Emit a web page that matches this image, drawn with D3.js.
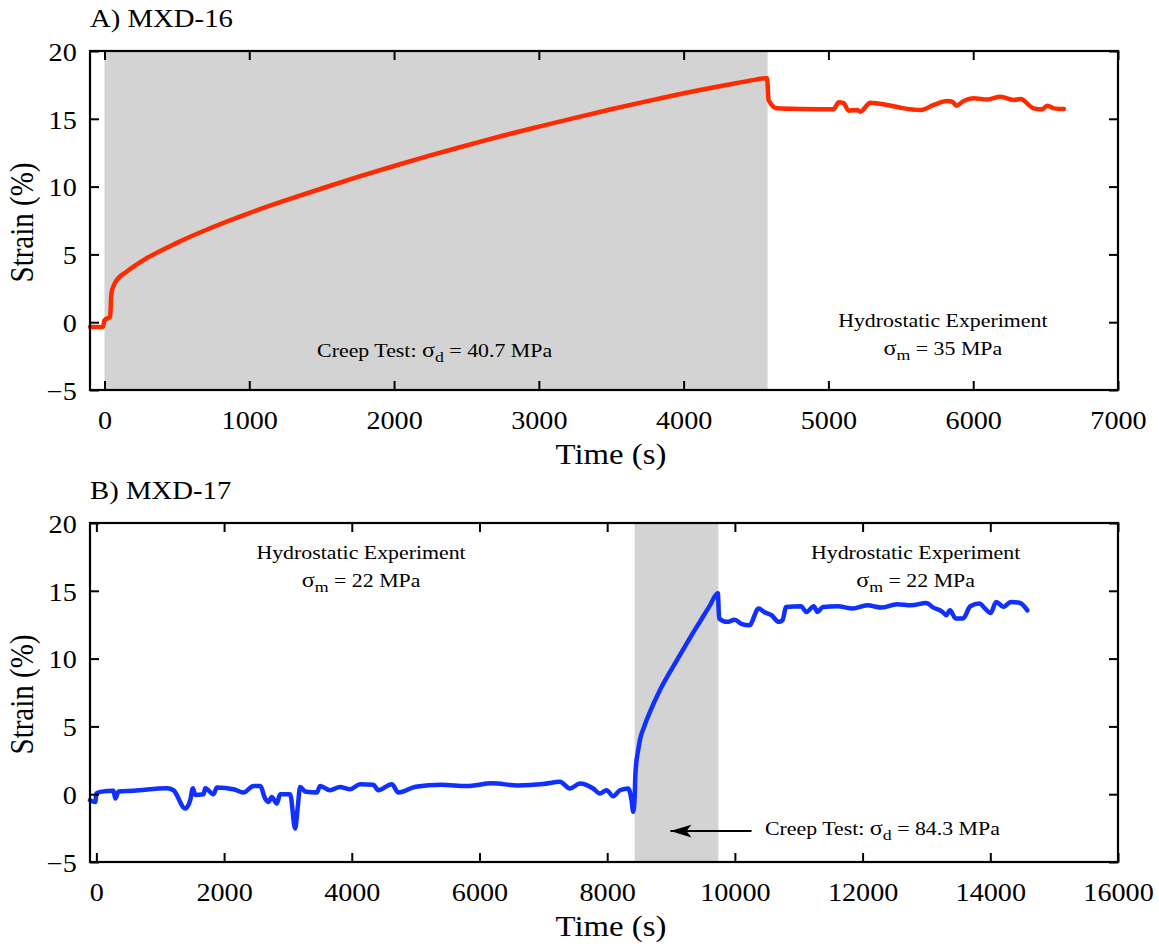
<!DOCTYPE html>
<meta charset="utf-8">
<script src="https://d3js.org/d3.v7.min.js"></script>
<style>
    body { margin: 0; background: #fff; }
</style>
<div id="chart"></div>
<script>

    // ---- data ----
    // A) MXD-16 : creep test then hydrostatic
    var timeA = [-100, -10, 0, 39, 48, 60, 84, 150, 250, 500, 750, 1000, 1250, 1500, 1750, 2000, 2250, 2500, 2750,
        3000, 3250, 3500, 3750, 4000, 4250, 4500, 4564, 4576, 4587, 4645, 4806, 5036, 5071, 5105, 5140, 5198, 5220,
        5290, 5405, 5497, 5635, 5727, 5820, 5855, 5884, 5934, 6003, 6096, 6188, 6280, 6326, 6418, 6476, 6511, 6557, 6626];
    var strainA = [-0.35, -0.35, 0.15, 0.4, 2.13, 2.6, 3.1, 3.7, 4.45, 5.85, 7.02, 8.05, 8.98, 9.86, 10.71, 11.52, 12.3, 13.03, 13.75,
        14.42, 15.07, 15.7, 16.3, 16.88, 17.4, 17.89, 17.99, 17.99, 16.39, 15.77, 15.72, 15.70, 16.22, 16.15, 15.6, 15.65, 15.52,
        16.19, 16.02, 15.82, 15.65, 16.02, 16.31, 16.26, 15.97, 16.31, 16.51, 16.43, 16.63, 16.39, 16.46, 15.77, 15.70, 15.97, 15.77, 15.72];

    // B) MXD-17 : hydrostatic, creep test, hydrostatic
    var timeB = [-100, -17, 0, 61, 269, 296, 348, 582, 1105, 1208, 1391, 1470, 1511, 1548, 1678, 1704, 1834, 1887, 2147,
        2304, 2460, 2565, 2643, 2695, 2747, 2826, 2878, 3034, 3113, 3154, 3191, 3269, 3452, 3504, 3660, 3817, 3973, 4130,
        4338, 4416, 4626, 4730, 5000, 5400, 5800, 6200, 6600, 7000, 7260, 7416, 7573, 7781, 7886, 7990, 8094, 8199, 8329, 8381, 8407,
        8430, 8440, 8455, 8480, 8512, 8580, 8668, 8825, 9000, 9150, 9300, 9450, 9600, 9733, 9753, 9880, 9995, 10111, 10226,
        10371, 10458, 10573, 10687, 10745, 10803, 11035, 11121, 11235, 11293, 11380, 11610, 11842, 12072, 12304, 12534,
        12763, 12995, 13110, 13253, 13310, 13368, 13457, 13572, 13687, 13831, 13917, 14005, 14092, 14207, 14322, 14466, 14580];
    var strainB = [-0.44, -0.57, 0.05, 0.17, 0.25, -0.32, 0.2, 0.25, 0.44, 0.29, -1.06, -0.44, 0.44, -0.05, 0.0, 0.44, 0.0, 0.49, 0.37,
        0.12, 0.61, 0.61, -0.32, -0.57, -0.2, -0.69, 0.0, 0.0, -2.53, -0.93, 0.54, 0.2, 0.12, 0.61, 0.29, 0.54, 0.37, 0.74,
        0.69, 0.29, 0.74, 0.12, 0.55, 0.7, 0.6, 0.8, 0.65, 0.75, 0.91, 0.42, 0.79, 0.42, 0.05, 0.29, -0.15, 0.29, 0.42, -0.44, -1.3,
        -0.2, 1.3, 2.3, 3.1, 3.98, 5.0, 6.05, 7.67, 9.15, 10.35, 11.55, 12.7, 13.85, 14.82, 12.96, 12.71, 12.86, 12.54, 12.46,
        13.69, 13.44, 13.2, 12.71, 12.83, 13.81, 13.86, 13.44, 13.86, 13.44, 13.81, 13.86, 13.69, 13.93, 13.76, 14.01,
        13.93, 14.1, 13.76, 13.44, 13.2, 13.56, 12.96, 12.96, 13.86, 14.06, 13.69, 13.37, 14.18, 13.81, 14.18, 14.1, 13.56];

    // shaded creep-test windows (s)
    var creepA = [0, 4580];
    var creepB = [8430, 9740];

    // ticks
    var xTicksA = [0, 1000, 2000, 3000, 4000, 5000, 6000, 7000];
    var xTicksB = [0, 2000, 4000, 6000, 8000, 10000, 12000, 14000, 16000];
    var yTicks = [-5, 0, 5, 10, 15, 20];

    var FONT = "'Times New Roman', 'Liberation Serif', Tinos, 'DejaVu Serif', serif";
    var SX = 1.15; // the type in the original is a little wide

    var W = 1159, H = 947;
    var svg = d3.select("#chart").append("svg")
        .attr("width", W)
        .attr("height", H)
        .style("font-family", FONT);

    // arrowhead, tip at the start of the line
    svg.append("defs").append("marker")
        .attr("id", "arrowhead")
        .attr("viewBox", "0 -7 22 14")
        .attr("refX", 0)
        .attr("refY", 0)
        .attr("markerWidth", 22)
        .attr("markerHeight", 14)
        .attr("markerUnits", "userSpaceOnUse")
        .attr("orient", "auto")
        .append("path")
        .attr("d", "M0,0 L21,-6.3 L16,0 L21,6.3 Z")
        .attr("fill", "#000");

    // a text placed at (px,py), widened by SX
    function label(g, px, py, size, anchor, rotate) {
        return g.append("text")
            .attr("transform", "translate(" + px + "," + py + ")" +
                (rotate ? " rotate(-90) scale(1," + SX + ")" : " scale(" + SX + ",1)"))
            .attr("text-anchor", anchor)
            .attr("font-family", FONT)
            .attr("font-size", size + "px");
    }

    // draws one panel and returns its scales
    function panel(opt) {
        var x = d3.scaleLinear().domain(opt.xDomain).range([opt.left, opt.right]);
        var y = d3.scaleLinear().domain([-5, 20]).range([opt.bottom, opt.top]);
        var g = svg.append("g");

        // creep test shading
        g.append("rect")
            .attr("x", x(opt.creep[0]))
            .attr("y", y(20))
            .attr("width", x(opt.creep[1]) - x(opt.creep[0]))
            .attr("height", y(-5) - y(20))
            .attr("fill", "#d3d3d3");

        // strain line
        var line = d3.line()
            .curve(d3.curveMonotoneX)
            .x(function (d) { return x(d[0]); })
            .y(function (d) { return y(d[1]); });
        g.append("path")
            .datum(d3.zip(opt.time, opt.strain))
            .attr("d", line)
            .attr("fill", "none")
            .attr("stroke", opt.color)
            .attr("stroke-width", 4.5)
            .attr("stroke-linejoin", "round")
            .attr("stroke-linecap", "round");

        // axes, ticks pointing inward
        var fmt = d3.format("d");
        g.append("g")
            .attr("transform", "translate(0," + opt.bottom + ")")
            .call(d3.axisBottom(x).tickValues(opt.xTicks).tickFormat(fmt).tickSize(-9).tickPadding(21.5).tickSizeOuter(0));
        g.append("g")
            .attr("transform", "translate(0," + opt.top + ")")
            .call(d3.axisTop(x).tickValues(opt.xTicks).tickSize(-9).tickFormat("").tickSizeOuter(0));
        var leftAx = g.append("g")
            .attr("transform", "translate(" + opt.left + ",0)")
            .call(d3.axisLeft(y).tickValues(yTicks).tickFormat(fmt).tickSize(-9).tickPadding(11.5).tickSizeOuter(0));
        g.append("g")
            .attr("transform", "translate(" + opt.right + ",0)")
            .call(d3.axisRight(y).tickValues(yTicks).tickSize(-9).tickFormat("").tickSizeOuter(0));

        g.selectAll(".domain").remove();
        g.selectAll("g").attr("font-family", FONT);
        g.selectAll(".tick line").attr("stroke", "#000").attr("stroke-width", 2);
        g.selectAll(".tick text")
            .attr("font-family", FONT)
            .attr("font-size", "24.5px")
            .attr("transform", "scale(" + SX + ",1)");
        leftAx.selectAll(".tick text").attr("dy", "0.38em");

        // frame
        g.append("rect")
            .attr("x", opt.left)
            .attr("y", opt.top)
            .attr("width", opt.right - opt.left)
            .attr("height", opt.bottom - opt.top)
            .attr("fill", "none")
            .attr("stroke", "#000")
            .attr("stroke-width", 2.2);

        // titles
        label(g, opt.left, opt.top - 24, 25, "start").text(opt.title);
        label(g, (opt.left + opt.right) / 2 + 7, opt.bottom + 74, 28.5, "middle").text("Time (s)");
        label(g, 33, (opt.top + opt.bottom) / 2 + 2, 29, "middle", true).text("Strain (%)");

        return { g: g, x: x, y: y };
    }

    // text like "Creep Test: σd = 40.7 MPa" with subscript
    function note(g, px, py, before, sub, after, anchor) {
        var t = label(g, px, py, 19, anchor);
        t.append("tspan").text(before);
        t.append("tspan").attr("font-size", "21px").text("σ");
        t.append("tspan").attr("font-size", "15.5px").attr("dy", 5).text(sub);
        t.append("tspan").attr("dy", -5).text(after);
        return t;
    }
    function heading(g, px, py, s) {
        label(g, px, py, 19, "middle").text(s);
    }

    var A = panel({
        left: 90, right: 1118, top: 51, bottom: 390,
        xDomain: [-100, 7000], xTicks: xTicksA,
        time: timeA, strain: strainA, creep: creepA,
        color: "#ff2a00", title: "A) MXD-16"
    });
    note(A.g, A.x(2280), A.y(-2.6), "Creep Test: ", "d", " = 40.7 MPa", "middle");
    heading(A.g, A.x(5790), A.y(-0.33), "Hydrostatic Experiment");
    note(A.g, A.x(5790), A.y(-2.42), "", "m", " = 35 MPa", "middle");

    var B = panel({
        left: 90, right: 1118, top: 523, bottom: 862,
        xDomain: [-100, 16000], xTicks: xTicksB,
        time: timeB, strain: strainB, creep: creepB,
        color: "#0f30ff", title: "B) MXD-17"
    });
    heading(B.g, B.x(4145), B.y(17.38), "Hydrostatic Experiment");
    note(B.g, B.x(4145), B.y(15.3), "", "m", " = 22 MPa", "middle");
    heading(B.g, B.x(12830), B.y(17.38), "Hydrostatic Experiment");
    note(B.g, B.x(12830), B.y(15.3), "", "m", " = 22 MPa", "middle");

    // arrow pointing into the creep window
    B.g.append("line")
        .attr("x1", B.x(8990))
        .attr("y1", B.y(-2.72))
        .attr("x2", B.x(10260))
        .attr("y2", B.y(-2.72))
        .attr("stroke", "#000")
        .attr("stroke-width", 2)
        .attr("marker-start", "url(#arrowhead)");
    note(B.g, B.x(10470), B.y(-3.02), "Creep Test: ", "d", " = 84.3 MPa", "start");

</script>
